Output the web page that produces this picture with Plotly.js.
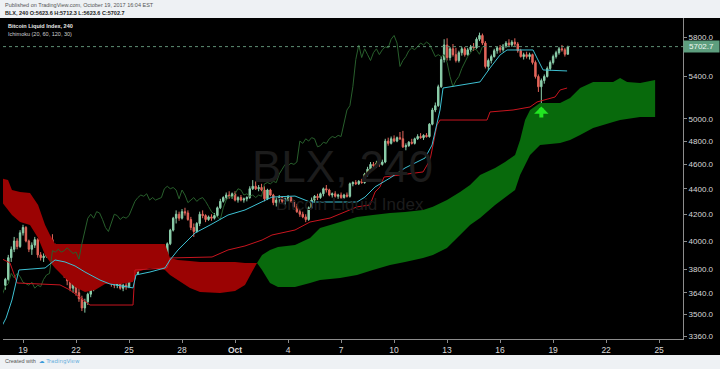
<!DOCTYPE html>
<html><head><meta charset="utf-8">
<script src="https://cdn.plot.ly/plotly-3.0.1.min.js"></script>
<style>html,body{margin:0;padding:0;background:#eef1f4}#chart{width:720px;height:369px}</style>
</head><body><div id="chart"></div>
<script>
// ---- 4h bars of BLX, first bar 2017-09-18 00:00 ----
const open = [3690,3730,3880,3940,4000,3960, 4060,4100,4000,3940,3970,4010, 3900,3880,3890,3950,4010,3970, 3910,3860,3820,3760,3720,3670, 3700,3640,3600,3540,3580,3630, 3680,3700,3770,3740,3770,3750, 3710,3700,3690,3710,3670,3690, 3680,3730,3760,3770,3930,3920, 3940,3920,3930,3950,3930,3910, 3920,3870,3980,4080,4170,4200, 4170,4220,4210,4160,4100,4070, 4130,4200,4190,4160,4180,4170, 4190,4250,4300,4330,4350,4340, 4360,4310,4330,4310,4320,4330, 4400,4420,4400,4410,4390,4320, 4390,4350,4290,4310,4330,4300, 4320,4330,4300,4260,4220,4200, 4180,4160,4250,4310,4340,4330, 4360,4400,4390,4350,4360,4340, 4350,4330,4350,4340,4440,4450, 4440,4460,4450,4520,4560,4600, 4590,4610,4600,4620,4800,4780, 4820,4800,4830,4820,4750,4760, 4790,4780,4820,4840,4830,4850, 4840,4950,5080,5120,5300,5570, 5720,5590,5680,5620,5560,5640, 5680,5620,5670,5700,5690,5780, 5820,5740,5500,5560,5600,5660, 5690,5670,5710,5740,5720,5750, 5730,5660,5600,5620,5600,5620, 5540,5400,5300,5360,5400,5480, 5540,5600,5640,5680,5670,5623.6];
const high = [3740,3900,3960,4030,4020,4080, 4120,4110,4010,3990,4030,4020, 3920,3910,3960,4030,4050,3980, 3930,3880,3840,3790,3760,3720, 3720,3670,3620,3600,3640,3700, 3720,3790,3800,3780,3790,3770, 3730,3720,3720,3720,3700,3710, 3740,3770,3780,3950,3960,3950, 3960,3950,3960,3970,3950,3940, 3930,3990,4090,4180,4230,4220, 4240,4250,4230,4180,4130,4140, 4220,4230,4200,4190,4200,4210, 4260,4320,4340,4370,4380,4370, 4380,4340,4350,4330,4340,4420, 4470,4460,4430,4440,4420,4400, 4400,4360,4330,4350,4340,4330, 4350,4340,4310,4280,4240,4220, 4200,4260,4330,4350,4360,4370, 4410,4430,4400,4370,4380,4360, 4370,4360,4370,4450,4460,4470, 4470,4480,4530,4580,4620,4620, 4630,4630,4640,4820,4830,4840, 4850,4840,4880,4890,4780,4800, 4820,4830,4860,4870,4860,4870, 4960,5100,5150,5320,5600,5780, 5790,5700,5730,5690,5660,5700, 5700,5690,5720,5740,5800,5850, 5840,5760,5580,5620,5680,5700, 5720,5730,5760,5780,5770,5790, 5750,5680,5640,5650,5640,5630, 5560,5420,5380,5420,5500,5560, 5620,5660,5700,5720,5690,5712.3];
const low = [3660,3720,3850,3920,3940,3950, 4040,3990,3920,3900,3950,3880, 3860,3850,3880,3940,3960,3900, 3850,3800,3740,3690,3650,3640, 3620,3580,3520,3510,3560,3610, 3650,3690,3720,3720,3730,3700, 3680,3670,3670,3660,3650,3660, 3670,3720,3730,3760,3900,3900, 3910,3900,3910,3920,3900,3890, 3860,3860,3970,4070,4130,4150, 4160,4190,4150,4080,4030,4060, 4110,4170,4140,4150,4150,4160, 4180,4240,4290,4310,4320,4320, 4300,4290,4300,4290,4300,4320, 4390,4390,4380,4380,4300,4310, 4340,4270,4260,4290,4280,4270, 4300,4290,4250,4210,4180,4170, 4140,4150,4240,4290,4310,4320, 4340,4370,4340,4330,4330,4320, 4320,4320,4330,4330,4420,4430, 4430,4440,4440,4500,4540,4570, 4570,4580,4590,4610,4760,4770, 4790,4790,4810,4740,4720,4750, 4770,4770,4810,4820,4810,4830, 4830,4940,5060,5110,5290,5540, 5560,5560,5600,5540,5540,5610, 5600,5610,5650,5660,5680,5760, 5720,5480,5460,5530,5590,5630, 5640,5650,5690,5700,5700,5710, 5640,5590,5570,5580,5570,5520, 5380,5250,5140,5330,5390,5460, 5520,5580,5620,5650,5600,5623.6];
const close = [3730,3880,3940,4000,3960,4060, 4100,4000,3940,3970,4010,3900, 3880,3890,3950,4010,3970,3910, 3860,3820,3760,3720,3670,3700, 3640,3600,3540,3580,3630,3680, 3700,3770,3740,3770,3750,3710, 3700,3690,3710,3670,3690,3680, 3730,3760,3770,3930,3920,3940, 3920,3930,3950,3930,3910,3920, 3870,3980,4080,4170,4200,4170, 4220,4210,4160,4100,4070,4130, 4200,4190,4160,4180,4170,4190, 4250,4300,4330,4350,4340,4360, 4310,4330,4310,4320,4330,4400, 4420,4400,4410,4390,4320,4390, 4350,4290,4310,4330,4300,4320, 4330,4300,4260,4220,4200,4180, 4160,4250,4310,4340,4330,4360, 4400,4390,4350,4360,4340,4350, 4330,4350,4340,4440,4450,4440, 4460,4450,4520,4560,4600,4590, 4610,4600,4620,4800,4780,4820, 4800,4830,4820,4750,4760,4790, 4780,4820,4840,4830,4850,4840, 4950,5080,5120,5300,5570,5720, 5590,5680,5620,5560,5640,5680, 5620,5670,5700,5690,5780,5820, 5740,5500,5560,5600,5660,5690, 5670,5710,5740,5720,5750,5730, 5660,5600,5620,5600,5620,5540, 5400,5300,5360,5400,5480,5540, 5600,5640,5680,5670,5623.6,5702.7];

// ---- Ichimoku (20, 60, 120, 30) lines ----
const tenkanTime = ['2017-09-17 18:00','2017-09-18 01:00','2017-09-18 09:00','2017-09-18 16:00','2017-09-18 18:30','2017-09-20 06:00','2017-09-20 19:30','2017-09-21 09:00','2017-09-21 22:40','2017-09-22 12:10','2017-09-23 08:35','2017-09-23 22:10','2017-09-25 05:25','2017-09-25 09:30','2017-09-26 04:30','2017-09-27 00:50','2017-09-27 07:40','2017-09-27 18:30','2017-09-28 08:10','2017-09-28 17:40','2017-09-29 14:00','2017-09-30 14:25','2017-10-01 13:30','2017-10-02 03:10','2017-10-03 02:10','2017-10-04 09:25','2017-10-04 16:15','2017-10-05 05:50','2017-10-07 21:40','2017-10-08 08:30','2017-10-08 22:10','2017-10-09 18:30','2017-10-10 14:50','2017-10-11 18:00','2017-10-12 03:35','2017-10-12 14:25','2017-10-12 18:30','2017-10-14 20:45','2017-10-15 10:20','2017-10-16 00:00','2017-10-16 09:25','2017-10-17 20:45','2017-10-18 02:10','2017-10-18 10:20','2017-10-19 19:00'];
const tenkanValue = [3413,3475,3592,3725,3794,3808,3864,3850,3822,3780,3725,3698,3672,3760,3780,3808,3864,3935,4007,4059,4118,4194,4233,4272,4334,4342,4327,4295,4295,4334,4415,4487,4570,4654,4766,5080,5288,5347,5485,5617,5668,5668,5585,5465,5455];

const kijunTime = ['2017-09-17 17:00','2017-09-18 06:20','2017-09-18 16:00','2017-09-21 02:15','2017-09-21 15:50','2017-09-22 05:25','2017-09-22 19:00','2017-09-25 05:25','2017-09-25 08:10','2017-09-27 03:35','2017-09-27 07:40','2017-09-29 16:45','2017-09-30 14:25','2017-10-01 13:30','2017-10-02 12:40','2017-10-03 02:10','2017-10-04 09:25','2017-10-05 05:50','2017-10-06 09:00','2017-10-07 05:20','2017-10-07 21:40','2017-10-08 15:20','2017-10-08 22:10','2017-10-09 04:55','2017-10-09 10:20','2017-10-11 15:20','2017-10-12 00:50','2017-10-12 10:20','2017-10-12 14:25','2017-10-15 06:15','2017-10-15 10:20','2017-10-16 17:35','2017-10-17 16:40','2017-10-18 02:10','2017-10-19 02:40','2017-10-19 09:30','2017-10-19 19:00'];
const kijunValue = [3878,3843,3705,3692,3658,3605,3559,3559,3794,3808,3878,3885,3935,3964,4007,4044,4081,4141,4171,4218,4257,4272,4374,4415,4495,4537,4637,4943,4988,4988,5062,5080,5108,5155,5202,5269,5288];

const cloudTime = ['2017-09-17 17:00','2017-09-18 03:40','2017-09-18 09:00','2017-09-18 20:00','2017-09-19 09:30','2017-09-19 20:30','2017-09-20 06:00','2017-09-20 12:40','2017-09-20 19:30','2017-09-21 09:00','2017-09-21 22:40','2017-09-22 12:10','2017-09-23 01:50','2017-09-23 15:25','2017-09-24 11:45','2017-09-25 05:25','2017-09-25 10:50','2017-09-26 04:30','2017-09-27 00:50','2017-09-27 07:40','2017-09-27 18:30','2017-09-28 10:50','2017-09-29 00:25','2017-09-30 03:35','2017-10-01 00:00','2017-10-01 13:30','2017-10-01 23:00','2017-10-02 05:50','2017-10-02 12:40','2017-10-02 23:30','2017-10-03 10:20','2017-10-04 09:25','2017-10-05 05:50','2017-10-05 19:25','2017-10-06 22:35','2017-10-07 21:40','2017-10-08 19:10','2017-10-09 18:30','2017-10-10 14:50','2017-10-11 15:20','2017-10-12 04:45','2017-10-12 23:50','2017-10-13 17:35','2017-10-14 07:10','2017-10-14 20:45','2017-10-15 17:10','2017-10-16 06:45','2017-10-16 20:20','2017-10-17 03:10','2017-10-17 09:55','2017-10-17 16:40','2017-10-18 06:15','2017-10-19 09:30','2017-10-19 23:00','2017-10-20 12:40','2017-10-21 06:20','2017-10-22 09:30','2017-10-22 19:00','2017-10-23 04:30','2017-10-23 22:10','2017-10-24 18:35'];
const senkouA = [4311,4233,4194,4141,4118,4022,3899,3850,3808,3739,3678,3645,3658,3698,3698,3712,3780,3808,3794,3760,3725,3672,3645,3638,3652,3692,3780,3843,3899,3935,3957,3971,4022,4096,4141,4179,4194,4210,4218,4233,4257,4311,4374,4431,4512,4570,4620,4680,4810,4988,5080,5145,5145,5192,5288,5347,5347,5386,5347,5337,5366];
const senkouB = [4487,4471,4390,4374,4366,4272,4118,4044,3978,3978,3978,3978,3978,3978,3978,3978,3978,3978,3978,3878,3864,3857,3850,3850,3850,3843,3843,3843,3794,3705,3678,3678,3705,3725,3739,3760,3794,3829,3850,3878,3899,3950,4044,4118,4171,4272,4327,4390,4512,4595,4680,4766,4784,4810,4854,4916,4970,4988,4997,5016,5016];
const chikouShiftBars = 29;

// ---- axis ticks ----
const xTickVals = ['2017-09-19','2017-09-22','2017-09-25','2017-09-28','2017-10-01','2017-10-04','2017-10-07','2017-10-10','2017-10-13','2017-10-16','2017-10-19','2017-10-22','2017-10-25'];
const xTickText = ['19','22','25','28','<b>Oct</b>','4','7','10','13','16','19','22','25'];
const yTickVals = [3360,3500,3640,3800,4000,4200,4400,4600,4800,5000,5400,5800];

// ---- build ----
const t0 = Date.UTC(2017, 8, 18, 0, 0);
const barTime = i => t0 + i * 4 * 3600e3;
const barTimes = close.map((_, i) => barTime(i));
const lastClose = close[close.length - 1];

const traces = [];
const segs = []; let cur = null;
for (let i = 0; i < cloudTime.length; i++) {
  const d = senkouA[i] - senkouB[i];
  if (d === 0) { if (cur) cur.idx.push(i); continue; }
  const s = d > 0 ? 'up' : 'down';
  if (!cur || cur.s !== s) {
    cur = {s: s, idx: []};
    if (i > 0 && senkouA[i-1] === senkouB[i-1]) cur.idx.push(i-1);
    segs.push(cur);
  }
  cur.idx.push(i);
}
segs.forEach(sg => {
  const xs = sg.idx.map(i => cloudTime[i]);
  const ys = sg.idx.map(i => senkouA[i]);
  const xr = sg.idx.slice().reverse().map(i => cloudTime[i]);
  const yr = sg.idx.slice().reverse().map(i => senkouB[i]);
  traces.push({type:'scatter', mode:'lines', x: xs.concat(xr), y: ys.concat(yr), fill:'toself',
    fillcolor: sg.s === 'up' ? '#086a0c' : '#9b0303', line:{width:0}, hoverinfo:'skip'});
});
traces.push({type:'scatter', mode:'lines', x: close.map((_, i) => barTime(i - chikouShiftBars)), y: close,
  line:{color:'#285f2c', width:1}, hoverinfo:'skip'});
traces.push({type:'scatter', mode:'lines', x: kijunTime, y: kijunValue, line:{color:'#c8151f', width:1}, hoverinfo:'skip'});
traces.push({type:'scatter', mode:'lines', x: tenkanTime, y: tenkanValue, line:{color:'#3ec1d3', width:1}, hoverinfo:'skip'});
traces.push({type:'candlestick', x: barTimes, open: open, high: high, low: low, close: close,
  increasing:{line:{color:'#8ccfab', width:1}, fillcolor:'#8ccfab'},
  decreasing:{line:{color:'#e3665b', width:1}, fillcolor:'#e3665b'},
  whiskerwidth:0, hoverinfo:'skip'});

const W = 680, PH = 321;
const px = x => (x - 3) / W, py = y => (339 - y) / PH;
const font = 'Liberation Sans, Arial, sans-serif';

const layout = {
  width:720, height:369, margin:{l:3, r:37, t:18, b:30},
  paper_bgcolor:'#eef1f4', plot_bgcolor:'#000', showlegend:false,
  font:{family: font, color:'#d0d0d0', size:8},
  xaxis:{type:'date', range:['2017-09-17 20:50','2017-10-26 08:25'], rangeslider:{visible:false},
    tickvals:xTickVals, ticktext:xTickText, showgrid:false, zeroline:false, showline:true,
    linecolor:'#8c8c8c', linewidth:1, ticks:'outside', ticklen:3, tickcolor:'#8c8c8c',
    tickfont:{family:font, size:8.5, color:'#d8d8d8'}, fixedrange:true},
  yaxis:{type:'log', side:'right', range:[3.52441, 3.77876], tickvals:yTickVals,
    ticktext: yTickVals.map(v => v.toFixed(1)), showgrid:false, zeroline:false, showline:true,
    linecolor:'#8c8c8c', linewidth:1, ticks:'outside', ticklen:3, tickcolor:'#8c8c8c',
    tickfont:{family:font, size:8, color:'#d8d8d8'}, fixedrange:true},
  shapes:[
    {type:'rect', xref:'paper', yref:'paper', x0:px(0), x1:px(720), y0:py(355), y1:1, fillcolor:'#000', line:{width:0}, layer:'below'},
    {type:'line', xref:'paper', yref:'y', x0:0, x1:1, y0:lastClose, y1:lastClose, line:{color:'#5f8f74', width:1, dash:'dot'}}
  ],
  annotations:[
    {xref:'paper', yref:'paper', x:px(3), y:py(5), xanchor:'left', yanchor:'middle', showarrow:false,
      text:'Published on TradingView.com, October 19, 2017 16:04 EST', font:{family:font, size:5.5, color:'#555'}},
    {xref:'paper', yref:'paper', x:px(3), y:py(13), xanchor:'left', yanchor:'middle', showarrow:false,
      text:'<b>BLX, 240 O:5623.6 H:5712.3 L:5623.6 C:5702.7</b>', font:{family:font, size:5.5, color:'#222'}},
    {xref:'paper', yref:'paper', x:px(6), y:py(26), xanchor:'left', yanchor:'middle', showarrow:false,
      text:'<b>Bitcoin Liquid Index, 240</b>', font:{family:font, size:5.5, color:'#e8e8e8'}},
    {xref:'paper', yref:'paper', x:px(6), y:py(34), xanchor:'left', yanchor:'middle', showarrow:false,
      text:'Ichimoku (20, 60, 120, 30)', font:{family:font, size:5.5, color:'#d0d0d0'}},
    {xref:'paper', yref:'paper', x:px(342), y:py(166), xanchor:'center', yanchor:'middle', showarrow:false,
      text:'BLX, 240', font:{family:font, size:44, color:'#1c1c1c'}},
    {xref:'paper', yref:'paper', x:px(350), y:py(205), xanchor:'center', yanchor:'middle', showarrow:false,
      text:'Bitcoin Liquid Index', font:{family:font, size:17, color:'#1c1c1c'}},
    {xref:'paper', yref:'y', x:1, y:Math.log10(lastClose), xanchor:'left', yanchor:'middle', showarrow:false,
      text:lastClose.toFixed(1), bgcolor:'#5d9e7e', width:35, height:11, borderpad:0, font:{family:font, size:8, color:'#eef8f1'}},
    {xref:'x', yref:'y', x:barTimes[182], y:Math.log10(low[182]), ax:0, ay:20, text:' ', showarrow:true,
      arrowhead:1, arrowsize:0.6, arrowwidth:4, arrowcolor:'#22e622', standoff:3},
    {xref:'paper', yref:'paper', x:px(3), y:py(361), xanchor:'left', yanchor:'middle', showarrow:false,
      text:'Created with', font:{family:font, size:5.5, color:'#555'}},
    {xref:'paper', yref:'paper', x:px(37), y:py(361), xanchor:'left', yanchor:'middle', showarrow:false,
      text:'<span style="color:#3a9ad9">☁</span> TradingView', font:{family:'DejaVu Sans, sans-serif', size:5.5, color:'#6ab0dd'}}
  ]
};
Plotly.newPlot('chart', traces, layout, {displayModeBar:false, staticPlot:true});
</script></body></html>
